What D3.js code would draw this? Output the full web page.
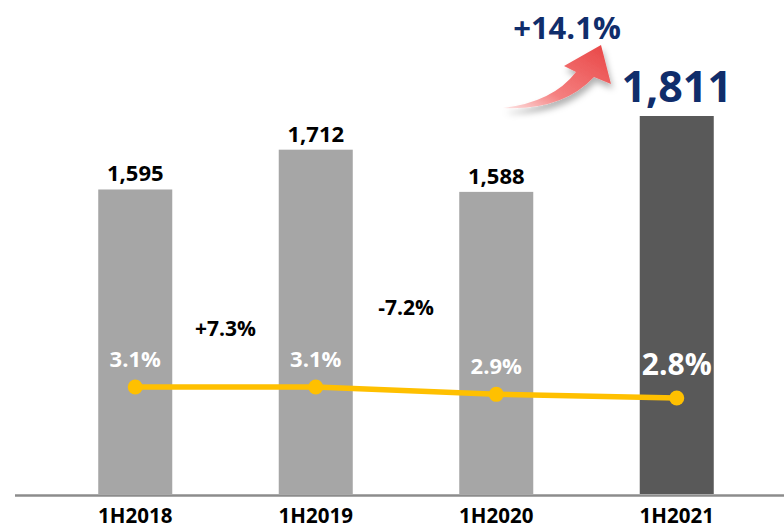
<!DOCTYPE html>
<html>
<head>
<meta charset="utf-8">
<script src="https://cdn.jsdelivr.net/npm/d3@7"></script>
<style>
  body { margin: 0; background: #fff; }
  #plot text { font-family: "Open Sans", "Noto Sans", sans-serif; font-weight: bold; }
</style>
</head>
<body>
<div id="plot"></div>
<script>
var periods = ["1H2018", "1H2019", "1H2020", "1H2021"];
var revenue = [1595, 1712, 1588, 1811];
var revenueLabels = ["1,595", "1,712", "1,588", "1,811"];
var margin = [3.1, 3.1, 2.9, 2.8];
var marginLabels = ["3.1%", "3.1%", "2.9%", "2.8%"];
var growthLabels = ["+7.3%", "-7.2%", "+14.1%"];

var width = 784, height = 529;

var svg = d3.select("#plot")
    .append("svg")
    .attr("width", width)
    .attr("height", height);

var x = d3.scaleBand()
    .domain(periods)
    .range([45, 767])
    .paddingInner(0.59)
    .paddingOuter(0.295);

// bars don't start at zero in the original
var y = d3.scaleLinear()
    .domain([700, 1811])
    .range([494, 116]);

var y2 = d3.scaleLinear()
    .domain([2.8, 3.1])
    .range([398, 387]);

function cx(d) { return x(d) + x.bandwidth() / 2; }

// bars
svg.selectAll("rect.bar")
    .data(periods)
    .enter().append("rect")
    .attr("class", "bar")
    .attr("x", function(d) { return x(d); })
    .attr("width", x.bandwidth())
    .attr("y", function(d, i) { return y(revenue[i]); })
    .attr("height", function(d, i) { return y(700) - y(revenue[i]); })
    .style("fill", function(d, i) { return i == 3 ? "#595959" : "#a6a6a6"; });

// axis line
svg.append("line")
    .attr("x1", 15).attr("x2", width)
    .attr("y1", 495.5).attr("y2", 495.5)
    .style("stroke", "#8c8c8c")
    .style("stroke-width", 2.5);

// category labels
svg.selectAll("text.cat")
    .data(periods)
    .enter().append("text")
    .attr("class", "cat")
    .attr("x", cx)
    .attr("y", 523)
    .attr("text-anchor", "middle")
    .style("font-size", "20.5px")
    .style("fill", "#000")
    .text(function(d) { return d; });

// value labels
svg.selectAll("text.val")
    .data(periods)
    .enter().append("text")
    .attr("class", "val")
    .attr("x", cx)
    .attr("y", function(d, i) { return y(revenue[i]) - (i == 3 ? 14 : 8); })
    .attr("text-anchor", "middle")
    .style("font-size", function(d, i) { return i == 3 ? "43px" : "22px"; })
    .style("fill", function(d, i) { return i == 3 ? "#102d6b" : "#000"; })
    .text(function(d, i) { return revenueLabels[i]; });

// margin line
var line = d3.line()
    .x(function(d, i) { return cx(periods[i]); })
    .y(function(d) { return y2(d); });

svg.append("path")
    .datum(margin)
    .attr("d", line)
    .style("fill", "none")
    .style("stroke", "#ffc000")
    .style("stroke-width", 5.5);

svg.selectAll("circle.dot")
    .data(margin)
    .enter().append("circle")
    .attr("class", "dot")
    .attr("cx", function(d, i) { return cx(periods[i]); })
    .attr("cy", function(d) { return y2(d); })
    .attr("r", 7.5)
    .style("fill", "#ffc000");

svg.selectAll("text.pct")
    .data(margin)
    .enter().append("text")
    .attr("class", "pct")
    .attr("x", function(d, i) { return cx(periods[i]); })
    .attr("y", function(d, i) { return y2(d) - (i == 3 ? 23 : 20); })
    .attr("text-anchor", "middle")
    .style("font-size", function(d, i) { return i == 3 ? "30px" : "22px"; })
    .style("fill", "#fff")
    .text(function(d, i) { return marginLabels[i]; });

// growth labels between bars
var gx = [(cx(periods[0]) + cx(periods[1])) / 2, (cx(periods[1]) + cx(periods[2])) / 2];
var gy = [336, 315];
svg.selectAll("text.growth")
    .data(growthLabels.slice(0, 2))
    .enter().append("text")
    .attr("class", "growth")
    .attr("x", function(d, i) { return gx[i]; })
    .attr("y", function(d, i) { return gy[i]; })
    .attr("text-anchor", "middle")
    .style("font-size", "21px")
    .style("fill", "#000")
    .text(function(d) { return d; });

// red arrow with gradient
var defs = svg.append("defs");
var grad = defs.append("linearGradient")
    .attr("id", "arrowGrad")
    .attr("x1", "0%").attr("y1", "100%")
    .attr("x2", "100%").attr("y2", "0%");
grad.append("stop").attr("offset", "0%").attr("stop-color", "#fde4e4");
grad.append("stop").attr("offset", "35%").attr("stop-color", "#f58080");
grad.append("stop").attr("offset", "100%").attr("stop-color", "#e84444");

var shadow = defs.append("filter")
    .attr("id", "shadow")
    .attr("x", "-20%").attr("y", "-20%")
    .attr("width", "150%").attr("height", "160%");
shadow.append("feDropShadow")
    .attr("dx", 2).attr("dy", 5)
    .attr("stdDeviation", 3)
    .attr("flood-color", "#000")
    .attr("flood-opacity", 0.3);

svg.append("path")
    .attr("d", "M503,108 Q553,102 576,72 L564,66 L601,45 L611,84 L594,77 Q562,111 503,108 Z")
    .style("fill", "url(#arrowGrad)")
    .style("filter", "url(#shadow)");

svg.append("text")
    .attr("x", 567)
    .attr("y", 39)
    .attr("text-anchor", "middle")
    .style("font-size", "31px")
    .style("fill", "#102d6b")
    .text(growthLabels[2]);
</script>
</body>
</html>
